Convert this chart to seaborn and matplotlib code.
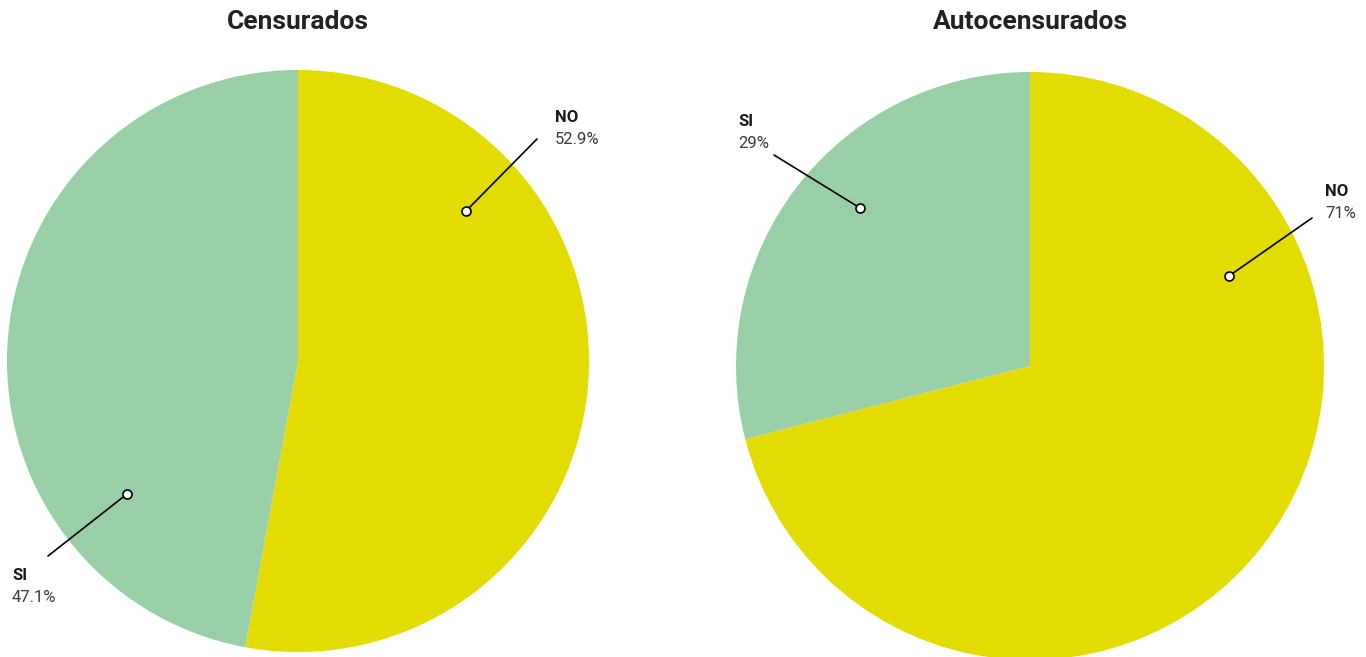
import numpy as np
import matplotlib
matplotlib.use("Agg")
import matplotlib.pyplot as plt
import seaborn as sns

# data
titles = ['Censurados', 'Autocensurados']
labels = ['NO', 'SI']
censurados = [52.9, 47.1]
autocensurados = [71, 29]
value_text = [['52.9%', '47.1%'], ['71%', '29%']]

sns.set_theme(style="white")
plt.rcParams['font.family'] = ['Roboto', 'DejaVu Sans']

colors = ['#E2DC03', '#99CFA7']

W, H = 1366, 657
fig = plt.figure(figsize=(W / 100, H / 100), dpi=100)
fig.patch.set_facecolor('white')

# pie layout in pixels: centre x, centre y, radius
layout = [(298, 361, 291), (1030, 366, 294)]
# callouts in pixels relative to pie centre (x right, y down):
# dot, line end, text anchor (left x, centre y of first line)
callouts = [
    [((168, -150), (239, -222), (257, -244)),
     ((-171, 133), (-250, 195), (-286, 214))],
    [((199, -90), (282, -148), (295, -175)),
     ((-170, -158), (-256, -211), (-292, -245))],
]

for i, values in enumerate([censurados, autocensurados]):
    cx, cy, r = layout[i]
    ax = fig.add_axes([(cx - r) / W, (H - cy - r) / H, 2 * r / W, 2 * r / H])
    ax.pie(values, colors=colors, startangle=90, counterclock=False,
           wedgeprops=dict(linewidth=0))
    ax.set_xlim(-1, 1)
    ax.set_ylim(-1, 1)
    ax.axis('off')

    fig.text(cx / W, (H - 22) / H, titles[i], ha='center', va='center',
             fontsize=19, fontweight='bold', color='#222222')

    for j, lab in enumerate(labels):
        (dx, dy), (ex, ey), (tx, ty) = callouts[i][j]
        x0, y0 = dx / r, -dy / r
        x1, y1 = ex / r, -ey / r
        ax.plot([x0, x1], [y0, y1], color='black', lw=1.2, clip_on=False, zorder=3)
        ax.plot([x0], [y0], marker='o', ms=6.5, mfc='white', mec='black',
                mew=1.2, clip_on=False, zorder=4)
        ax.text(tx / r, -ty / r, lab, ha='left', va='center', fontsize=12,
                fontweight='bold', color='#1a1a1a')
        ax.text(tx / r, -(ty + 22) / r, value_text[i][j], ha='left', va='center',
                fontsize=12, fontweight='normal', color='#3a3a3a')

fig.savefig('out.png', dpi=100, facecolor='white')
